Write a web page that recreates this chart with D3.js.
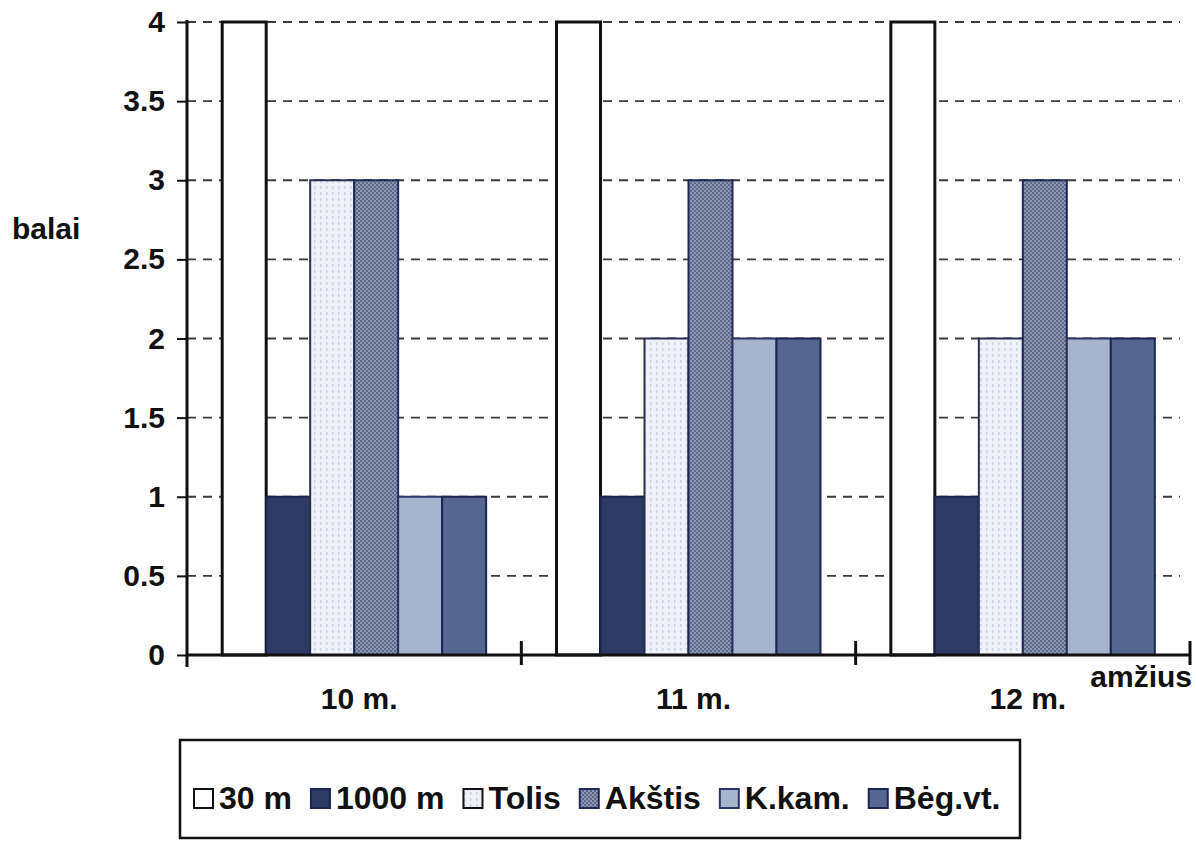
<!DOCTYPE html>
<html>
<head>
<meta charset="utf-8">
<script src="https://cdn.jsdelivr.net/npm/d3@7"></script>
<style>
  html, body { margin: 0; padding: 0; background: #ffffff; }
  svg { display: block; }
  text { font-family: "Liberation Sans", Arial, sans-serif; font-weight: bold; fill: #111; }
</style>
</head>
<body>
<svg id="chart" width="1196" height="843"></svg>
<script>
// ---- data ----
const categories = ["10 m.", "11 m.", "12 m."];
const seriesNames = ["30 m", "1000 m", "Tolis", "Akštis", "K.kam.", "Bėg.vt."];
const values30m   = [4, 4, 4];
const values1000m = [1, 1, 1];
const valuesTolis = [3, 2, 2];
const valuesAkstis = [3, 3, 3];
const valuesKkam  = [1, 2, 2];
const valuesBeg   = [1, 2, 2];
const yTicks = [0, 0.5, 1, 1.5, 2, 2.5, 3, 3.5, 4];
const yTickLabels = ["0", "0.5", "1", "1.5", "2", "2.5", "3", "3.5", "4"];
const yTitle = "balai";
const xTitle = "amžius";

(function () {
const seriesValues = [values30m, values1000m, valuesTolis, valuesAkstis, valuesKkam, valuesBeg];
const strokes = ["#111111", "#1c2550", "#2a3050", "#1f2a58", "#2a3563", "#1c2550"];
const strokeW = [3, 2, 2, 2, 2, 2];

const svg = d3.select("#chart");
const pLeft = 187, pRight = 1190, pTop = 22, pBottom = 655;

const x0 = d3.scaleBand().domain(categories).range([pLeft, pRight]).padding(0);
const x1 = d3.scaleBand().domain(seriesNames).range([0, x0.bandwidth()]).paddingInner(0).paddingOuter(0.8);
const y = d3.scaleLinear().domain([0, 4]).range([pBottom, pTop]);

// patterns for texture
const defs = svg.append("defs");
const pA = defs.append("pattern").attr("id", "pAk").attr("width", 4).attr("height", 4).attr("patternUnits", "userSpaceOnUse");
pA.append("rect").attr("width", 4).attr("height", 4).attr("fill", "#8d97b2");
pA.append("rect").attr("width", 2).attr("height", 2).attr("fill", "#5f6a8a");
pA.append("rect").attr("x", 2).attr("y", 2).attr("width", 2).attr("height", 2).attr("fill", "#5f6a8a");
const pT = defs.append("pattern").attr("id", "pTo").attr("width", 6).attr("height", 6).attr("patternUnits", "userSpaceOnUse");
pT.append("rect").attr("width", 6).attr("height", 6).attr("fill", "#eef1f7");
pT.append("rect").attr("x", 2).attr("width", 1.5).attr("height", 3).attr("fill", "#c9d1e3");
const patFills = ["#ffffff", "#2d3a63", "url(#pTo)", "url(#pAk)", "#a8b3ce", "#56678f"];

// gridlines
svg.append("g").selectAll("line").data(yTicks.filter(t => t > 0)).join("line")
  .attr("x1", pLeft).attr("x2", 1180)
  .attr("y1", d => y(d)).attr("y2", d => y(d))
  .attr("stroke", "#3a3a3a").attr("stroke-width", 1.8).attr("stroke-dasharray", "9,7");

// bars
const rows = [];
categories.forEach((c, i) => {
  seriesNames.forEach((s, j) => rows.push({ c, s, j, v: seriesValues[j][i] }));
});
svg.append("g").selectAll("rect").data(rows).join("rect")
  .attr("x", d => x0(d.c) + x1(d.s))
  .attr("y", d => y(d.v))
  .attr("width", x1.bandwidth())
  .attr("height", d => y(0) - y(d.v))
  .attr("fill", d => patFills[d.j])
  .attr("stroke", d => strokes[d.j])
  .attr("stroke-width", d => strokeW[d.j]);

// y axis
const yAxis = svg.append("g").attr("transform", `translate(${pLeft},0)`)
  .call(d3.axisLeft(y).tickValues(yTicks).tickFormat((d, i) => yTickLabels[i]).tickSize(10).tickPadding(12));
yAxis.select(".domain").remove();
yAxis.append("line").attr("x1", 0).attr("x2", 0).attr("y1", pTop - 2).attr("y2", pBottom + 12)
  .attr("stroke", "#111").attr("stroke-width", 3);
yAxis.selectAll(".tick line").attr("stroke", "#111").attr("stroke-width", 2);
yAxis.selectAll(".tick text").attr("font-size", 30).attr("fill", "#111")
  .style("font-family", "'Liberation Sans', Arial, sans-serif").style("font-weight", "bold");

// x axis
const xAxisG = svg.append("g");
xAxisG.append("line").attr("x1", pLeft).attr("x2", pRight).attr("y1", pBottom).attr("y2", pBottom)
  .attr("stroke", "#111").attr("stroke-width", 3);
const boundaries = categories.map(c => x0(c)).concat([x0(categories[categories.length - 1]) + x0.bandwidth()]).slice(1);
xAxisG.selectAll("line.tk").data(boundaries).join("line").attr("class", "tk")
  .attr("x1", d => d).attr("x2", d => d).attr("y1", pBottom - 14).attr("y2", pBottom + 10)
  .attr("stroke", "#111").attr("stroke-width", 3);
xAxisG.selectAll("text.cat").data(categories).join("text").attr("class", "cat")
  .attr("x", d => x0(d) + x0.bandwidth() / 2 + 5).attr("y", 709)
  .attr("text-anchor", "middle").attr("font-size", 30).text(d => d);

// titles
svg.append("text").attr("x", 12).attr("y", 239).attr("font-size", 30).text(yTitle);
svg.append("text").attr("x", 1192).attr("y", 687).attr("text-anchor", "end").attr("font-size", 30).text(xTitle);

// legend
svg.append("rect").attr("x", 180).attr("y", 740).attr("width", 840).attr("height", 98)
  .attr("fill", "none").attr("stroke", "#111").attr("stroke-width", 2.5);
const lg = svg.append("g");
let lx = 194;
const ly = 798;
seriesNames.forEach((s, j) => {
  lg.append("rect").attr("x", lx).attr("y", ly - 9).attr("width", 19).attr("height", 19)
    .attr("fill", patFills[j]).attr("stroke", j === 0 || j === 2 ? "#111" : strokes[j]).attr("stroke-width", 2);
  lx += 19 + 6;
  const t = lg.append("text").attr("x", lx).attr("y", ly + 11).attr("font-size", 32).text(s);
  const w = t.node().getComputedTextLength();
  lx += w + 19;
});
})();
</script>
</body>
</html>
